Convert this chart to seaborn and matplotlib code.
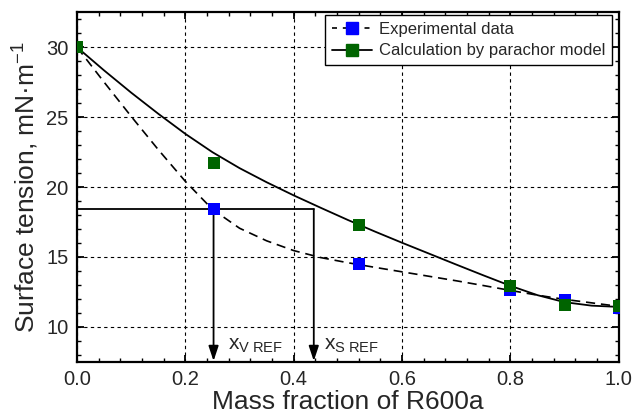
import matplotlib
matplotlib.use("Agg")
import matplotlib.pyplot as plt
from matplotlib.lines import Line2D
from matplotlib.ticker import MultipleLocator
import seaborn as sns
import pandas as pd

# Measured surface tension of R600a mixtures (markers)
mass_fraction = [0.0, 0.252, 0.52, 0.80, 0.90, 1.0]
sigma_exp = [30.0, 18.4, 14.5, 12.62, 11.93, 11.35]
sigma_calc = [30.0, 21.75, 17.3, 12.95, 11.55, 11.45]

# Smooth curves through the data
curve_x = [0.0, 0.05, 0.1, 0.15, 0.2, 0.25, 0.3, 0.35, 0.4, 0.45, 0.5,
           0.55, 0.6, 0.65, 0.7, 0.75, 0.8, 0.85, 0.9, 0.95, 1.0]
curve_exp = [30.0, 27.5, 25.05, 22.67, 20.4, 18.4, 17.05, 16.15, 15.45, 14.95, 14.58,
             14.25, 13.93, 13.61, 13.29, 12.95, 12.6, 12.26, 11.96, 11.71, 11.46]
curve_calc = [30.0, 28.34, 26.75, 25.24, 23.8, 22.49, 21.35, 20.34, 19.4, 18.51, 17.64,
              16.81, 16.01, 15.23, 14.45, 13.68, 12.93, 12.26, 11.76, 11.51, 11.42]

# Reference composition read-out
sigma_ref = 18.4
x_v_ref = 0.252
x_s_ref = 0.437

x_ticks = [0.0, 0.2, 0.4, 0.6, 0.8, 1.0]
x_tick_labels = ["0.0", "0.2", "0.4", "0.6", "0.8", "1.0"]
y_ticks = [10, 15, 20, 25, 30]
y_tick_labels = ["10", "15", "20", "25", "30"]

sns.set_style("white")
plt.rcParams["font.family"] = ["Liberation Sans", "DejaVu Sans"]
plt.rcParams["mathtext.fontset"] = "custom"
plt.rcParams["mathtext.rm"] = "Liberation Sans"
plt.rcParams["mathtext.it"] = "Liberation Sans"
plt.rcParams["mathtext.bf"] = "Liberation Sans:bold"

fig, ax = plt.subplots(figsize=(6.34, 4.17), dpi=100)
fig.subplots_adjust(left=0.1215, right=0.976, top=0.9705, bottom=0.1326)

curves = pd.DataFrame({"x": curve_x, "exp": curve_exp, "calc": curve_calc})
points = pd.DataFrame({"x": mass_fraction, "exp": sigma_exp, "calc": sigma_calc})

ax.grid(True, color="black", linestyle=(0, (3, 3)), linewidth=0.8)
ax.set_axisbelow(True)

sns.lineplot(data=curves, x="x", y="exp", ax=ax, color="black", linewidth=1.2,
             linestyle=(0, (5.5, 3.5)), sort=False, estimator=None, zorder=3)
sns.lineplot(data=curves, x="x", y="calc", ax=ax, color="black", linewidth=1.3,
             sort=False, estimator=None, zorder=3)

# Reference lines with arrows down to the composition axis
ax.plot([0.0, x_s_ref], [sigma_ref, sigma_ref], color="black", linewidth=1.3, zorder=3)
for xr in (x_v_ref, x_s_ref):
    ax.annotate("", xy=(xr, 7.55), xytext=(xr, sigma_ref),
                arrowprops=dict(arrowstyle="-|>,head_length=0.9,head_width=0.3",
                                color="black", lw=1.3, shrinkA=0, shrinkB=0),
                zorder=3)

sns.scatterplot(data=points, x="x", y="exp", ax=ax, marker="s", s=64, color="#0000ff",
                edgecolor="#0000ff", linewidth=0, zorder=4)
sns.scatterplot(data=points, x="x", y="calc", ax=ax, marker="s", s=64, color="#006400",
                edgecolor="#006400", linewidth=0, zorder=5)

ax.text(0.279, 8.35, r"x$_{\mathrm{V\ REF}}$", fontsize=15, zorder=6)
ax.text(0.455, 8.35, r"x$_{\mathrm{S\ REF}}$", fontsize=15, zorder=6)

ax.set_xlim(0.0, 1.0)
ax.set_ylim(7.5, 32.5)
ax.set_xticks(x_ticks)
ax.set_xticklabels(x_tick_labels)
ax.set_yticks(y_ticks)
ax.set_yticklabels(y_tick_labels)
ax.xaxis.set_minor_locator(MultipleLocator(0.04))
ax.yaxis.set_minor_locator(MultipleLocator(1))
ax.tick_params(which="both", direction="in", bottom=True, left=True, top=True,
               right=True, color="black")
ax.tick_params(which="major", length=5, width=1.3, labelsize=14.5, pad=6)
ax.tick_params(which="minor", length=3, width=1.0)

for side in ax.spines.values():
    side.set_visible(True)
    side.set_color("black")
    side.set_linewidth(1.6)

ax.set_xlabel("Mass fraction of R600a", fontsize=19, labelpad=1)
ax.set_ylabel(r"Surface tension, mN·m$^{-1}$", fontsize=19, labelpad=4)

handles = [
    Line2D([], [], color="black", linestyle=(0, (3, 3.5)), linewidth=1.2, marker="s",
           markersize=8, markerfacecolor="#0000ff", markeredgecolor="#0000ff"),
    Line2D([], [], color="black", linewidth=1.3, marker="s", markersize=8,
           markerfacecolor="#006400", markeredgecolor="#006400"),
]
leg = ax.legend(handles, ["Experimental data", "Calculation by parachor model"],
                loc="upper right", bbox_to_anchor=(0.987, 0.992), fontsize=12,
                frameon=True, fancybox=False, framealpha=1, edgecolor="black",
                handlelength=2.4, handletextpad=0.4, borderpad=0.4, labelspacing=0.4,
                borderaxespad=0.0)
leg.get_frame().set_linewidth(1.0)

fig.savefig("out.png", dpi=100)
